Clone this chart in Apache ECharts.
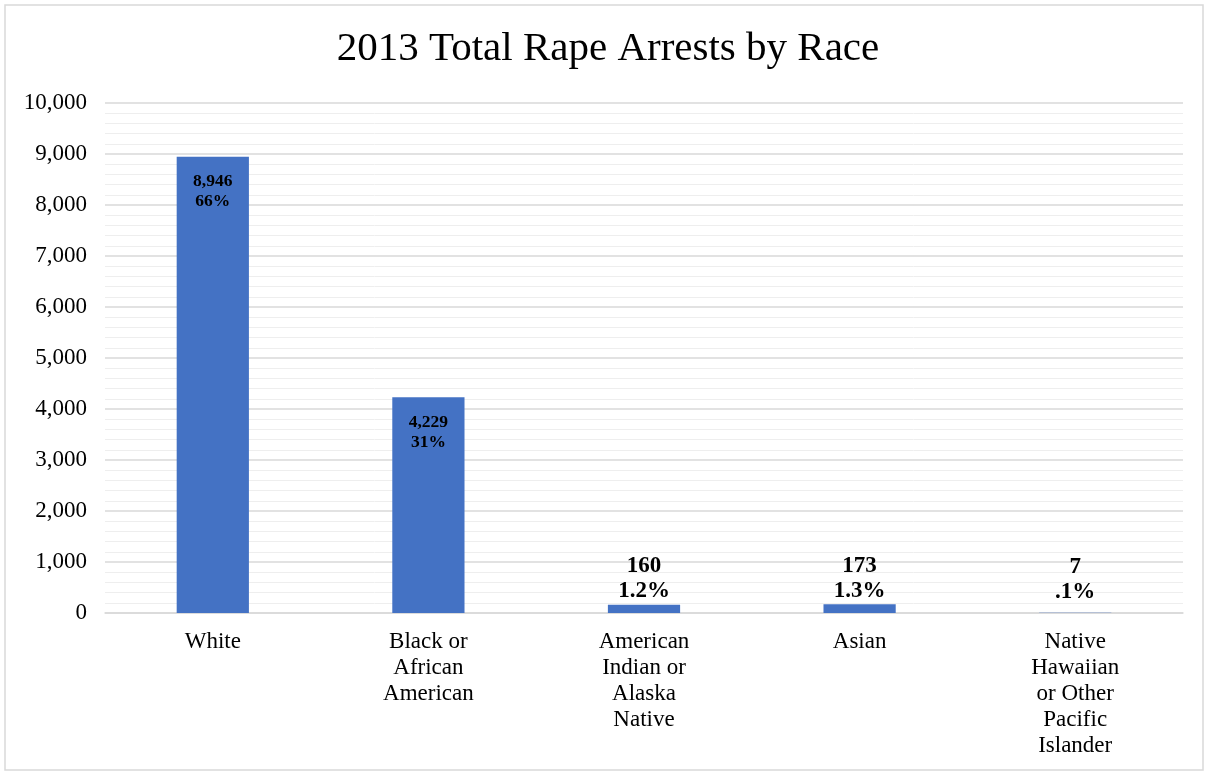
<!DOCTYPE html>
<html>
<head>
<meta charset="utf-8">
<script src="https://cdn.jsdelivr.net/npm/echarts@6/dist/echarts.min.js"></script>
<style>
html,body{margin:0;padding:0;background:#fff;}
#c{width:1206px;height:775px;}
</style>
</head>
<body>
<div id="c"></div>
<script>
const categories = ['White', 'Black or\nAfrican\nAmerican', 'American\nIndian or\nAlaska\nNative', 'Asian', 'Native\nHawaiian\nor Other\nPacific\nIslander'];
const values = [8946, 4229, 160, 173, 7];
const percents = ['66%', '31%', '1.2%', '1.3%', '.1%'];
const insideLabel = [true, true, false, false, false];

const font = '"Liberation Serif", "Times New Roman", serif';
const chart = echarts.init(document.getElementById('c'));

const data = values.map((v, i) => ({
  value: v,
  label: insideLabel[i]
    ? { position: 'insideTop', distance: 15, fontSize: 17.5, lineHeight: 20 }
    : { position: 'top', distance: 1, fontSize: 23, lineHeight: 25, offset: i === 4 ? [0, -7] : [0, 0] }
}));

chart.setOption({
  animation: false,
  backgroundColor: '#fff',
  graphic: [{
    type: 'rect',
    shape: { x: 5, y: 5, width: 1198, height: 765 },
    style: { fill: 'none', stroke: '#d9d9d9', lineWidth: 1.5 },
    silent: true
  }],
  title: {
    text: '2013 Total Rape Arrests by Race',
    left: 608,
    textAlign: 'center',
    top: 24,
    textStyle: { fontFamily: font, fontSize: 41, fontWeight: 'normal', color: '#000' }
  },
  grid: { left: 105, right: 23, top: 103, bottom: 162, containLabel: false },
  xAxis: {
    type: 'category',
    data: categories,
    axisLine: { show: true, lineStyle: { color: '#d9d9d9', width: 1.5 } },
    axisTick: { show: false },
    axisLabel: {
      interval: 0, margin: 16, color: '#000',
      fontFamily: font, fontSize: 23, lineHeight: 26
    }
  },
  yAxis: {
    type: 'value',
    min: 0, max: 10000, interval: 1000,
    axisLine: { show: false },
    axisTick: { show: false },
    axisLabel: {
      margin: 18, color: '#000', fontFamily: font, fontSize: 23,
      formatter: v => v.toLocaleString('en-US')
    },
    splitLine: { show: true, lineStyle: { color: '#d9d9d9', width: 1.5 } },
    minorTick: { show: false, splitNumber: 5 },
    minorSplitLine: { show: true, lineStyle: { color: '#eeeeee', width: 1 } }
  },
  series: [{
    type: 'bar',
    data: data,
    barWidth: '33.5%',
    itemStyle: { color: '#4472C4' },
    label: {
      show: true,
      color: '#000',
      fontFamily: font,
      fontWeight: 'bold',
      formatter: p => values[p.dataIndex].toLocaleString('en-US') + '\n' + percents[p.dataIndex]
    }
  }]
});
chart.setOption({ title: { left: 603 } });
</script>
</body>
</html>
